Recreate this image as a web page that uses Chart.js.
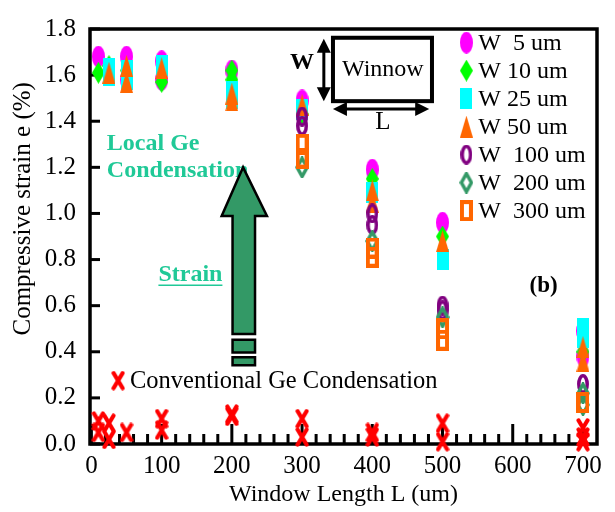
<!DOCTYPE html>
<html>
<head>
<meta charset="utf-8">
<script src="https://cdn.jsdelivr.net/npm/chart.js@4.4.1/dist/chart.umd.min.js"></script>
<style>
  html, body { margin: 0; padding: 0; background: #fff; }
  #wrap { width: 615px; height: 512px; }
</style>
</head>
<body>
<div id="wrap"><canvas id="strainChart" width="615" height="512"></canvas></div>
<script>
// [window length L (um), compressive strain (%)] per marker
const w5 = [[10,1.68],[50,1.68],[50,1.58],[100,1.66],[100,1.58],[200,1.62],[300,1.49],[400,1.19],[500,0.96],[700,0.49],[700,0.38]];
const w10 = [[10,1.61],[25,1.64],[50,1.62],[100,1.57],[200,1.62],[200,1.58],[300,1.43],[400,1.15],[500,0.90],[700,0.40]];
const w25 = [[25,1.63],[25,1.60],[50,1.62],[50,1.58],[100,1.64],[200,1.53],[200,1.50],[300,1.45],[400,1.09],[500,0.80],[700,0.50],[700,0.46]];
const w50 = [[25,1.61],[50,1.64],[50,1.57],[100,1.63],[200,1.52],[200,1.49],[300,1.47],[400,1.10],[400,1.05],[500,0.88],[700,0.42],[700,0.36]];
const w100 = [[300,1.42],[300,1.38],[400,1.00],[400,0.95],[500,0.60],[500,0.58],[700,0.26]];
const w200 = [[300,1.20],[400,0.88],[500,0.55],[700,0.22],[700,0.17]];
const w300 = [[300,1.30],[300,1.24],[400,0.85],[400,0.81],[500,0.50],[500,0.45],[700,0.18]];
const conventional = [[10,0.10],[10,0.05],[25,0.09],[25,0.02],[50,0.05],[100,0.11],[100,0.06],[200,0.13],[200,0.12],[300,0.11],[300,0.03],[400,0.05],[400,0.03],[500,0.09],[500,0.01],[700,0.07],[700,0.03],[700,0.01]];

const seriesLabels = ['W  5 um', 'W 10 um', 'W 25 um', 'W 50 um', 'W  100 um', 'W  200 um', 'W  300 um'];
const convLabel = 'Conventional Ge Condensation';
const xTicks = [0, 100, 200, 300, 400, 500, 600, 700];
const yTicks = [0, 0.2, 0.4, 0.6, 0.8, 1.0, 1.2, 1.4, 1.6, 1.8];
const yTitle = 'Compressive strain e (%)';

const SERIF = "'Liberation Serif', 'Times New Roman', serif";
const TEAL_TEXT = '#20c997';

// little canvases used as point styles (markers in the figure are taller than wide)
function makeMarker(kind, color) {
    const c = document.createElement('canvas');
    const size = { ellipse: [13, 22], diamond: [13, 22], rect: [12, 21], tri: [13, 22],
                   ring: [12, 20], hdiamond: [14, 22], hrect: [13, 21], cross: [14, 20] }[kind];
    c.width = size[0]; c.height = size[1];
    const g = c.getContext('2d');
    const w = c.width, h = c.height;
    g.fillStyle = color; g.strokeStyle = color;
    if (kind === 'ellipse') {
        g.beginPath(); g.ellipse(w / 2, h / 2, w / 2, h / 2, 0, 0, Math.PI * 2); g.fill();
    } else if (kind === 'diamond') {
        g.beginPath(); g.moveTo(w / 2, 0); g.lineTo(w, h / 2); g.lineTo(w / 2, h); g.lineTo(0, h / 2); g.closePath(); g.fill();
    } else if (kind === 'rect') {
        g.fillRect(0, 0, w, h);
    } else if (kind === 'tri') {
        g.beginPath(); g.moveTo(w / 2, 0); g.lineTo(w, h); g.lineTo(0, h); g.closePath(); g.fill();
    } else if (kind === 'ring') {
        g.lineWidth = 3.5;
        g.beginPath(); g.ellipse(w / 2, h / 2, w / 2 - 1.8, h / 2 - 1.8, 0, 0, Math.PI * 2); g.stroke();
    } else if (kind === 'hdiamond') {
        g.lineWidth = 3.5;
        g.beginPath(); g.moveTo(w / 2, 2); g.lineTo(w - 2, h / 2); g.lineTo(w / 2, h - 2); g.lineTo(2, h / 2); g.closePath(); g.stroke();
    } else if (kind === 'hrect') {
        g.lineWidth = 4;
        g.strokeRect(2, 2, w - 4, h - 4);
    } else if (kind === 'cross') {
        g.lineWidth = 4.2; g.lineCap = 'round';
        g.beginPath(); g.moveTo(2.5, 2.5); g.lineTo(w - 2.5, h - 2.5); g.moveTo(w - 2.5, 2.5); g.lineTo(2.5, h - 2.5); g.stroke();
    }
    return c;
}

const styles = [
    makeMarker('ellipse', '#ff00ff'),
    makeMarker('diamond', '#00ff00'),
    makeMarker('rect', '#00ffff'),
    makeMarker('tri', '#ff6600'),
    makeMarker('ring', '#800080'),
    makeMarker('hdiamond', '#339966'),
    makeMarker('hrect', '#ff6600')
];
const crossStyle = makeMarker('cross', '#ff0000');

const toPoints = arr => arr.map(p => ({ x: p[0], y: p[1] }));
const seriesData = [w5, w10, w25, w50, w100, w200, w300];

const datasets = seriesData.map((arr, i) => ({
    label: seriesLabels[i],
    data: toPoints(arr),
    pointStyle: styles[i],
    pointRadius: 6,
    order: 8 - i,      // later series sit on top
    clip: false
}));
datasets.push({
    label: convLabel,
    data: toPoints(conventional),
    pointStyle: crossStyle,
    pointRadius: 6,
    order: 0,
    clip: false
});

// frame + inward ticks + y title, drawn under the markers
const framePlugin = {
    id: 'frame',
    beforeDatasetsDraw(chart) {
        const { ctx, chartArea: a, scales: { x, y } } = chart;
        ctx.save();
        ctx.strokeStyle = '#000';
        ctx.lineWidth = 3;
        yTicks.forEach(v => {
            const py = y.getPixelForValue(v);
            ctx.beginPath(); ctx.moveTo(a.left, py); ctx.lineTo(a.left + 10, py); ctx.stroke();
        });
        for (let v = 0; v <= 700; v += 20) {
            const px = x.getPixelForValue(v);
            const len = v % 100 === 0 ? 20 : 10;
            ctx.beginPath(); ctx.moveTo(px, a.bottom); ctx.lineTo(px, a.bottom - len); ctx.stroke();
        }
        ctx.lineWidth = 3.5;
        ctx.strokeRect(a.left, a.top, a.right - a.left, a.bottom - a.top);

        // y title sits a bit above the axis middle in the figure
        ctx.translate(23, y.getPixelForValue(1.02));
        ctx.rotate(-Math.PI / 2);
        ctx.font = '25px ' + SERIF;
        ctx.fillStyle = '#000';
        ctx.textAlign = 'center';
        ctx.textBaseline = 'middle';
        ctx.fillText(yTitle, 0, 0);
        ctx.restore();
    }
};

function arrowHead(ctx, x0, y0, x1, y1, len, half) {
    const ang = Math.atan2(y1 - y0, x1 - x0);
    ctx.beginPath();
    ctx.moveTo(x1, y1);
    ctx.lineTo(x1 - len * Math.cos(ang) + half * Math.sin(ang), y1 - len * Math.sin(ang) - half * Math.cos(ang));
    ctx.lineTo(x1 - len * Math.cos(ang) - half * Math.sin(ang), y1 - len * Math.sin(ang) + half * Math.cos(ang));
    ctx.closePath();
    ctx.fill();
}

function doubleArrow(ctx, x0, y0, x1, y1) {
    const ang = Math.atan2(y1 - y0, x1 - x0);
    ctx.beginPath();
    ctx.moveTo(x0 + 12 * Math.cos(ang), y0 + 12 * Math.sin(ang));
    ctx.lineTo(x1 - 12 * Math.cos(ang), y1 - 12 * Math.sin(ang));
    ctx.stroke();
    arrowHead(ctx, x0, y0, x1, y1, 14, 7);
    arrowHead(ctx, x1, y1, x0, y0, 14, 7);
}

// legend, schematic and labels
const notesPlugin = {
    id: 'notes',
    afterDatasetsDraw(chart) {
        const { ctx, scales: { x, y } } = chart;
        const X = v => x.getPixelForValue(v);
        const Y = v => y.getPixelForValue(v);
        ctx.save();

        // legend for W series
        ctx.font = '24px ' + SERIF;
        ctx.fillStyle = '#000';
        ctx.textAlign = 'left';
        ctx.textBaseline = 'middle';
        const ly0 = Y(1.741);
        seriesLabels.forEach((lab, i) => {
            const st = styles[i];
            const cy = ly0 + i * 28;
            ctx.drawImage(st, X(534) - st.width / 2, cy - st.height / 2);
            ctx.fillText(lab, X(551), cy + 1);
        });

        // conventional legend
        ctx.font = '24.5px ' + SERIF;
        const cy = Y(0.275);
        ctx.drawImage(crossStyle, X(38) - crossStyle.width / 2, cy - crossStyle.height / 2);
        ctx.fillText(convLabel, X(55), cy + 1);

        // Winnow schematic
        ctx.strokeStyle = '#000';
        ctx.lineWidth = 4;
        ctx.strokeRect(X(344), Y(1.762), X(485) - X(344), Y(1.487) - Y(1.762));
        ctx.textAlign = 'center';
        ctx.font = '24px ' + SERIF;
        ctx.fillText('Winnow', X(415), Y(1.622));
        ctx.font = 'bold 24px ' + SERIF;
        ctx.fillText('W', X(300), Y(1.652));
        ctx.font = '25px ' + SERIF;
        ctx.fillText('L', X(415), Y(1.395));
        ctx.lineWidth = 3;
        ctx.fillStyle = '#000';
        doubleArrow(ctx, X(331), Y(1.758), X(331), Y(1.487));
        doubleArrow(ctx, X(344), Y(1.453), X(481), Y(1.453));

        // (b)
        ctx.font = 'bold 23px ' + SERIF;
        ctx.fillText('(b)', X(644), Y(0.684));

        // teal labels
        ctx.fillStyle = TEAL_TEXT;
        ctx.textAlign = 'left';
        ctx.font = 'bold 24px ' + SERIF;
        ctx.fillText('Local Ge', X(22), Y(1.30));
        ctx.fillText('Condensation', X(22), Y(1.183));
        ctx.textAlign = 'center';
        ctx.fillText('Strain', X(141), Y(0.735));
        const sw = ctx.measureText('Strain').width;
        ctx.strokeStyle = TEAL_TEXT;
        ctx.lineWidth = 1.5;
        ctx.beginPath();
        ctx.moveTo(X(141) - sw / 2, Y(0.689));
        ctx.lineTo(X(141) + sw / 2, Y(0.689));
        ctx.stroke();

        // big strain arrow
        ctx.fillStyle = '#339966';
        ctx.strokeStyle = '#000';
        ctx.lineWidth = 2.5;
        ctx.beginPath();
        ctx.moveTo(X(216), Y(1.20));
        ctx.lineTo(X(250), Y(0.989));
        ctx.lineTo(X(233), Y(0.989));
        ctx.lineTo(X(233), Y(0.477));
        ctx.lineTo(X(201), Y(0.477));
        ctx.lineTo(X(201), Y(0.989));
        ctx.lineTo(X(185.5), Y(0.989));
        ctx.closePath();
        ctx.fill(); ctx.stroke();
        [[0.452, 0.397], [0.376, 0.342]].forEach(r => {
            ctx.beginPath();
            ctx.rect(X(201), Y(r[0]), X(233) - X(201), Y(r[1]) - Y(r[0]));
            ctx.fill(); ctx.stroke();
        });

        ctx.restore();
    }
};

Chart.defaults.font.family = SERIF;
Chart.defaults.font.size = 25;
Chart.defaults.color = '#000';

new Chart(document.getElementById('strainChart'), {
    type: 'scatter',
    data: { datasets: datasets },
    options: {
        responsive: false,
        animation: false,
        layout: { padding: { top: 18, right: 18, left: 0, bottom: 0 } },
        plugins: { legend: { display: false }, tooltip: { enabled: false } },
        scales: {
            x: {
                type: 'linear',
                min: -2,
                max: 720,
                grid: { display: false, drawTicks: false },
                border: { display: false },
                afterBuildTicks: s => { s.ticks = xTicks.map(v => ({ value: v })); },
                afterFit: s => { s.height = 68; },
                ticks: { padding: 7, maxRotation: 0, callback: v => String(v) },
                title: { display: true, text: 'Window Length L (um)', font: { size: 24 }, padding: { top: 0, bottom: 3 } }
            },
            y: {
                type: 'linear',
                min: 0,
                max: 1.8,
                grid: { display: false, drawTicks: false },
                border: { display: false },
                afterBuildTicks: s => { s.ticks = yTicks.map(v => ({ value: v })); },
                afterFit: s => { s.width = 90; },
                ticks: { padding: 14, callback: v => Number(v).toFixed(1) },
                title: { display: false }
            }
        }
    },
    plugins: [framePlugin, notesPlugin]
});
</script>
</body>
</html>
